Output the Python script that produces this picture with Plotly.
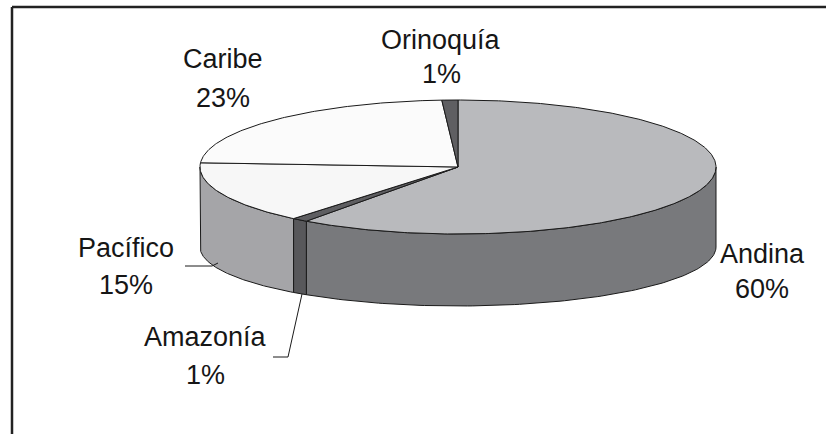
import numpy as np
import plotly.graph_objects as go

# Share of each region (percent), listed clockwise from 12 o'clock
regions = ["Andina", "Amazonía", "Pacífico", "Caribe", "Orinoquía"]
shares = [60, 1, 15, 23, 1]

# Fill colours: top faces and the (darker) outer walls
top_colors = ["#b9babd", "#5e5e61", "#f7f7f7", "#fbfbfb", "#5f5f62"]
side_colors = ["#78797c", "#58585b", "#a5a5a8", "#d0d0d0", "#505053"]
EDGE = "#1a1a1a"

# Canvas in pixel units, y pointing down
W, H = 826, 434

# Projected ellipses of the disc: top face and bottom rim
CX, CY, RX, RY = 458, 167, 258, 67
BCY, BRY = 247, 59


def top_pt(t):
    return CX + RX * np.sin(t), CY - RY * np.cos(t)


def bot_pt(t):
    return CX + RX * np.sin(t), BCY - BRY * np.cos(t)


total = float(sum(shares))
bounds = np.concatenate([[0.0], np.cumsum(shares) / total * 2 * np.pi])

fig = go.Figure()

# Outer walls: only the front half of the rim (pi/2 .. 3pi/2) is visible
for i, name in enumerate(regions):
    lo = max(bounds[i], np.pi / 2)
    hi = min(bounds[i + 1], 3 * np.pi / 2)
    if hi <= lo:
        continue
    t = np.linspace(lo, hi, 120)
    tx, ty = top_pt(t)
    bx, by = bot_pt(t[::-1])
    xs = np.concatenate([tx, bx, tx[:1]])
    ys = np.concatenate([ty, by, ty[:1]])
    fig.add_trace(go.Scatter(
        x=xs, y=ys, mode="lines", fill="toself",
        fillcolor=side_colors[i], line=dict(color=EDGE, width=1),
        hoverinfo="skip", showlegend=False,
    ))

# Top faces of every slice
for i, name in enumerate(regions):
    t = np.linspace(bounds[i], bounds[i + 1], max(8, int(shares[i] * 6)))
    tx, ty = top_pt(t)
    xs = np.concatenate([[CX], tx, [CX]])
    ys = np.concatenate([[CY], ty, [CY]])
    fig.add_trace(go.Scatter(
        x=xs, y=ys, mode="lines", fill="toself",
        fillcolor=top_colors[i], line=dict(color=EDGE, width=1),
        hoverinfo="skip", showlegend=False,
    ))

# Label placement: (centre x, baseline of name line, baseline of percent line)
label_pos = {
    "Andina": (762, 263, 298),
    "Amazonía": (205, 346, 384),
    "Pacífico": (126, 257, 294),
    "Caribe": (223, 68, 107),
    "Orinoquía": (441, 49, 83),
}
FONT = dict(family="Liberation Sans, Arial, sans-serif", size=27, color="#161616")
for name, share in zip(regions, shares):
    x, b1, b2 = label_pos[name]
    for txt, base in ((name, b1), (f"{share}%", b2)):
        fig.add_annotation(
            x=x, y=base - 9.5, text=txt, showarrow=False,
            xanchor="center", yanchor="middle", font=FONT,
        )

# Leader lines for the two small front labels
leaders = [
    [(185, 266), (212, 266), (218, 263)],
    [(273, 357), (288, 357), (302, 294)],
]
for pts in leaders:
    fig.add_trace(go.Scatter(
        x=[p[0] for p in pts], y=[p[1] for p in pts], mode="lines",
        line=dict(color=EDGE, width=1), hoverinfo="skip", showlegend=False,
    ))

# Chart frame (left and top edges inside the canvas)
fig.add_shape(type="line", x0=12, y0=7, x1=12, y1=H + 5,
              line=dict(color="#222222", width=2.5))
fig.add_shape(type="line", x0=12, y0=7, x1=W + 5, y1=7,
              line=dict(color="#222222", width=2.5))

fig.update_layout(
    width=W, height=H,
    margin=dict(l=0, r=0, t=0, b=0),
    paper_bgcolor="white", plot_bgcolor="white",
    xaxis=dict(range=[0, W], visible=False, fixedrange=True),
    yaxis=dict(range=[H, 0], visible=False, fixedrange=True),
    showlegend=False,
)

fig.write_html("out.html", config={"displayModeBar": False})
